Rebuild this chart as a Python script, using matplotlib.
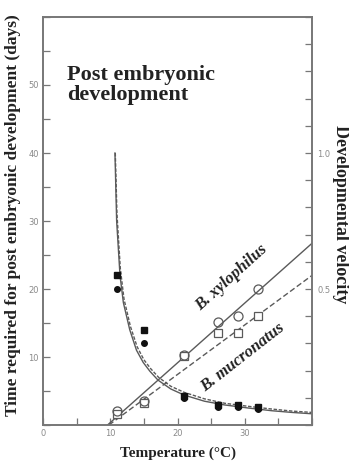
import matplotlib.pyplot as plt

# temperatures of the rearing experiments (deg C)
temp = [11, 15, 21, 26, 29, 32]

# time required for post embryonic development (days)
days_sq = [22, 14, 4.2, 3.0, 2.9, 2.6]
days_ci = [20, 12, 4.0, 2.7, 2.6, 2.3]

# developmental velocity, open symbols
vel_xylo = [0.053, 0.09, 0.257, 0.38, 0.40, 0.50]
vel_mucro = [0.04, 0.082, 0.255, 0.337, 0.337, 0.40]

# regression lines of velocity on temperature
line_t_xylo = [9.6, 40]
line_v_xylo = [0.0, 0.668]
line_t_mucro = [9.8, 40]
line_v_mucro = [0.0, 0.55]

# hyperbolas for development time
curve_t_xylo = [10.7, 10.95, 11.45, 11.95, 12.9, 13.9, 14.9, 15.9, 17.1, 19, 21, 24, 27, 30.5, 34, 37, 40]
curve_d_xylo = [40, 30, 22, 18, 14, 11, 9.2, 7.9, 6.6, 5.3, 4.4, 3.5, 2.95, 2.5, 2.1, 1.85, 1.65]
curve_t_mucro = [10.75, 11.0, 11.5, 12.05, 13.0, 14.0, 15.0, 16.0, 17.2, 19, 21, 24, 27, 30.5, 34, 37, 40]
curve_d_mucro = [40, 31, 23, 18.5, 14.5, 11.5, 9.6, 8.3, 7.0, 5.7, 4.8, 3.85, 3.2, 2.75, 2.35, 2.05, 1.85]

serif = 'Liberation Serif'
gray = '#5a5a5a'
spine_c = '#777777'
tick_c = '#8a8a8a'

fig = plt.figure(figsize=(3.49, 4.61), dpi=100)
ax = fig.add_axes([43/349, 36/461, 269/349, 408/461])
ax2 = ax.twinx()

ax.plot(curve_t_xylo, curve_d_xylo, color=gray, lw=1.0)
ax.plot(curve_t_mucro, curve_d_mucro, color=gray, lw=1.0, ls=(0, (2.5, 1.2)))
ax.plot(temp, days_sq, 's', color='#111111', ms=4.5)
ax.plot(temp, days_ci, 'o', color='#111111', ms=4)

ax2.plot(line_t_xylo, line_v_xylo, color=gray, lw=1.0)
ax2.plot(line_t_mucro, line_v_mucro, color=gray, lw=1.0, ls=(0, (4, 2)))
ax2.plot(temp, vel_mucro, 's', mfc='white', mec=gray, mew=0.9, ms=5.5)
ax2.plot(temp, vel_xylo, 'o', mfc='none', mec=gray, mew=0.9, ms=6.5)

ax.set_xlim(0, 40)
ax.set_ylim(0, 60)
ax2.set_ylim(0, 1.5)

ax.set_xticks(range(0, 41, 5))
ax.set_xticklabels(['0', '', '10', '', '20', '', '30', '', ''])
ax.set_yticks(range(0, 61, 5))
ax.set_yticklabels(['', '', '10', '', '20', '', '30', '', '40', '', '50', '', ''])
ax2.set_yticks([i / 10 for i in range(16)])
ax2.set_yticklabels(['0.5' if i == 5 else '1.0' if i == 10 else '' for i in range(16)])

for a in (ax, ax2):
    a.tick_params(direction='in', length=5, width=0.9, color=spine_c,
                  labelsize=6, labelcolor=tick_c)
    for s in a.spines.values():
        s.set_color(spine_c)
        s.set_linewidth(1.2)
ax.tick_params(axis='x', pad=3)
ax.tick_params(axis='y', pad=3)
ax2.tick_params(axis='y', pad=4)

# axis titles placed on the figure
fig.text(13/349, 1 - 215/461, 'Time required for post embryonic development (days)',
         family=serif, fontweight='bold', fontsize=12.5, rotation=90,
         ha='center', va='center', color='#222222')
fig.text(341/349, 1 - 214/461, 'Developmental velocity',
         family=serif, fontweight='bold', fontsize=13, rotation=-90,
         ha='center', va='center', color='#222222')
ax.set_xlabel('Temperature (°C)', family=serif, fontweight='bold', fontsize=11,
              labelpad=6, color='#222222')

ax.text(3.6, 53.0, 'Post embryonic\ndevelopment', family=serif, fontweight='bold',
        fontsize=16, ha='left', va='top', linespacing=1.05, color='#222222')
ax.text(28.1, 21.6, 'B. xylophilus', family=serif, fontweight='bold', style='italic',
        fontsize=12, rotation=42, ha='center', va='center', rotation_mode='anchor',
        color='#222222')
ax.text(29.7, 9.85, 'B. mucronatus', family=serif, fontweight='bold', style='italic',
        fontsize=12, rotation=38, ha='center', va='center', rotation_mode='anchor',
        color='#222222')

fig.savefig('out.png', dpi=100)
